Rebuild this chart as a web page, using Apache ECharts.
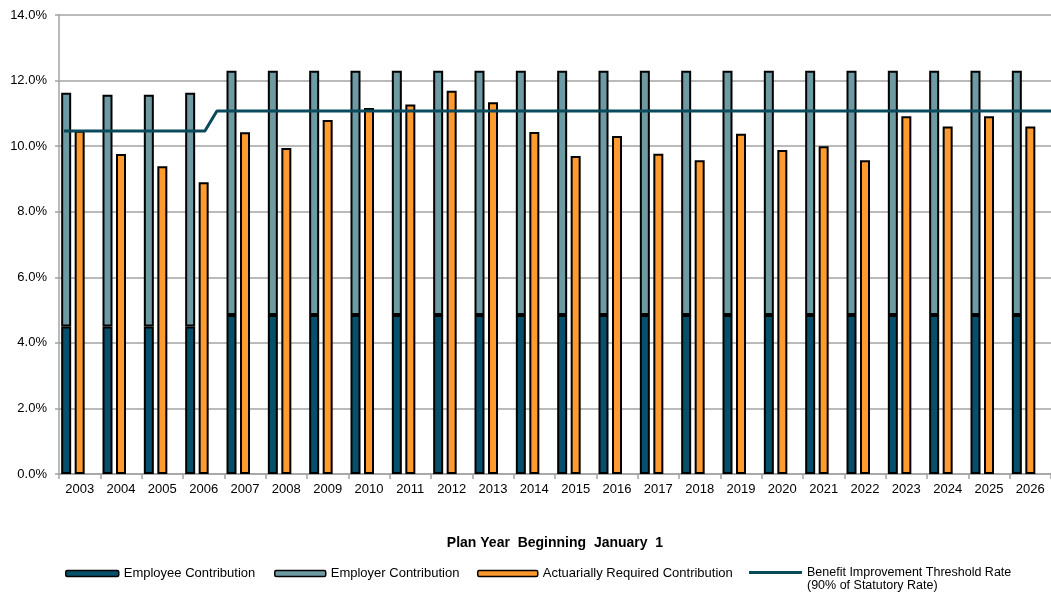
<!DOCTYPE html>
<html>
<head>
<meta charset="utf-8">
<style>
  html, body { margin: 0; padding: 0; background: #fff; }
  #chart { width: 1051px; height: 596px; }
</style>
<script src="https://cdn.jsdelivr.net/npm/echarts@6/dist/echarts.min.js"></script>
</head>
<body>
<div id="chart"></div>
<script>
// Plan years on the category axis
const years = ['2003','2004','2005','2006','2007','2008','2009','2010','2011','2012','2013','2014',
               '2015','2016','2017','2018','2019','2020','2021','2022','2023','2024','2025','2026'];

// Contribution rates, % of payroll
const employeeRate = [4.5, 4.5, 4.5, 4.5, 4.85, 4.85, 4.85, 4.85, 4.85, 4.85, 4.85, 4.85,
                      4.85, 4.85, 4.85, 4.85, 4.85, 4.85, 4.85, 4.85, 4.85, 4.85, 4.85, 4.85];
const employerRate = [7.13, 7.07, 7.07, 7.13, 7.45, 7.45, 7.45, 7.45, 7.45, 7.45, 7.45, 7.45,
                      7.45, 7.45, 7.45, 7.45, 7.45, 7.45, 7.45, 7.45, 7.45, 7.45, 7.45, 7.45];
const requiredRate = [10.47, 9.76, 9.39, 8.90, 10.42, 9.94, 10.80, 11.16, 11.27, 11.69, 11.34, 10.43,
                      9.70, 10.31, 9.77, 9.57, 10.38, 9.88, 10.00, 9.57, 10.91, 10.60, 10.91, 10.60];

// Threshold rate (90% of statutory rate), positioned on a continuous year scale
const thresholdYear = [2002.62, 2006.03, 2006.32, 2026.5];
const thresholdRate = [10.46, 10.46, 11.07, 11.07];

// Value axis ticks
const yMin = 0, yMax = 14, yStep = 2;

const FONT = "'Liberation Sans', Arial, sans-serif";
const C_EMP = '#07506a', C_ER = '#6e9aa3', C_REQ = '#ff9a2e', C_LINE = '#0b4a5c';
const GRID_GRAY = '#a3a3a3';

const chart = echarts.init(document.getElementById('chart'), null, { renderer: 'canvas' });

const barBorder = { borderColor: '#000', borderWidth: 2 };
const BAR_W = 10, BAR_GAP = '35%';
const legendBase = {
  orient: 'horizontal', padding: 0, itemHeight: 6, itemGap: 0,
  textStyle: { fontFamily: FONT, fontSize: 13, color: '#000' },
  itemStyle: { borderColor: '#000', borderWidth: 1.5 },
  selectedMode: false
};

chart.setOption({
  animation: false,
  backgroundColor: '#fff',
  grid: { left: 59, top: 15, width: 998, height: 459, containLabel: false },
  legend: [
    Object.assign({}, legendBase, { data: ['Employee Contribution'], left: 65, top: 567, itemWidth: 53 }),
    Object.assign({}, legendBase, { data: ['Employer Contribution'], left: 274, top: 567, itemWidth: 51 }),
    Object.assign({}, legendBase, { data: ['Actuarially Required Contribution'], left: 477, top: 567, itemWidth: 60 }),
    Object.assign({}, legendBase, {
      data: [{ name: 'Benefit Improvement Threshold Rate', icon: 'rect' }],
      left: 749, top: 553, itemWidth: 53, itemHeight: 3,
      itemStyle: { borderWidth: 0 },
      // blank first line keeps the title line level with the icon
      formatter: function (n) { return '\n' + n + '\n(90% of Statutory Rate)'; },
      textStyle: { fontFamily: FONT, fontSize: 12.5, color: '#000', lineHeight: 13 }
    })
  ],
  xAxis: [
    {
      type: 'category',
      data: years,
      boundaryGap: true,
      name: 'Plan Year  Beginning  January  1',
      nameLocation: 'middle',
      nameGap: 62,
      nameTextStyle: { fontFamily: FONT, fontSize: 14, fontWeight: 'bold', color: '#000' },
      axisLine: { show: true, lineStyle: { color: GRID_GRAY, width: 1.5 } },
      axisTick: { show: true, length: 5, lineStyle: { color: GRID_GRAY, width: 1.5 } },
      axisLabel: { fontFamily: FONT, fontSize: 13, color: '#000', margin: 9, interval: 0 },
      splitLine: { show: false }
    },
    {
      type: 'value',
      min: 2002.5, max: 2026.5,
      show: false,
      splitLine: { show: false }
    }
  ],
  yAxis: {
    type: 'value',
    min: yMin, max: yMax, interval: yStep,
    axisLine: { show: true, lineStyle: { color: GRID_GRAY, width: 1.5 } },
    axisTick: { show: true, length: 4, lineStyle: { color: GRID_GRAY, width: 1.5 } },
    axisLabel: {
      fontFamily: FONT, fontSize: 13, color: '#000', margin: 12,
      formatter: function (v) { return v.toFixed(1) + '%'; }
    },
    splitLine: { show: true, lineStyle: { color: GRID_GRAY, width: 1.5 } }
  },
  series: [
    {
      name: 'Employee Contribution', type: 'bar', stack: 'contrib',
      data: employeeRate, barWidth: BAR_W, barGap: BAR_GAP,
      itemStyle: Object.assign({ color: C_EMP }, barBorder)
    },
    {
      name: 'Employer Contribution', type: 'bar', stack: 'contrib',
      data: employerRate, barWidth: BAR_W, barGap: BAR_GAP,
      itemStyle: Object.assign({ color: C_ER }, barBorder)
    },
    {
      name: 'Actuarially Required Contribution', type: 'bar',
      data: requiredRate, barWidth: BAR_W, barGap: BAR_GAP,
      itemStyle: Object.assign({ color: C_REQ }, barBorder)
    },
    {
      // empty third slot in each cluster
      name: 'spacer', type: 'bar',
      data: years.map(function () { return null; }), barWidth: BAR_W, barGap: BAR_GAP,
      itemStyle: { color: 'transparent' }, silent: true
    },
    {
      name: 'Benefit Improvement Threshold Rate', type: 'line',
      xAxisIndex: 1,
      data: thresholdYear.map(function (y, i) { return [y, thresholdRate[i]]; }),
      showSymbol: false, symbol: 'none',
      lineStyle: { color: C_LINE, width: 3 },
      itemStyle: { color: C_LINE },
      z: 5
    }
  ]
});
</script>
</body>
</html>
